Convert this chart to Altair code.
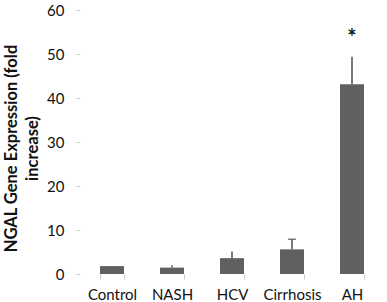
import altair as alt
import pandas as pd

# Group means (fold increase) and the top of each error bar
groups = ["Control", "NASH", "HCV", "Cirrhosis", "AH"]
fold_change = [1.8, 1.45, 3.6, 5.6, 43.1]
upper_error = [1.8, 2.0, 5.1, 7.9, 49.4]
significance = ["", "", "", "", "*"]
star_level = [None, None, None, None, 55.0]
has_cap = [False, False, False, True, False]

df = pd.DataFrame({
    "group": groups,
    "fold_change": fold_change,
    "upper_error": upper_error,
    "sig": significance,
    "star_y": star_level,
    "cap": has_cap,
})

FONT = "Lato"

x = alt.X(
    "group:N",
    sort=groups,
    scale=alt.Scale(paddingInner=0.6, paddingOuter=0.3),
    axis=alt.Axis(
        title=None,
        domain=False,
        tickBand="extent",
        tickSize=5,
        tickColor="#c8c8c8",
        labelAngle=0,
        labelPadding=8,
        labelFontSize=15,
        labelFont=FONT,
        labelColor="#111",
    ),
)

y_scale = alt.Scale(domain=[0, 60], nice=False)

bars = alt.Chart(df).mark_bar(color="#606060").encode(
    x=x,
    y=alt.Y(
        "fold_change:Q",
        scale=y_scale,
        axis=alt.Axis(
            values=[0, 10, 20, 30, 40, 50, 60],
            grid=False,
            domain=False,
            offset=2,
            tickSize=4,
            tickColor="#c8c8c8",
            labelPadding=12,
            labelFontSize=15,
            labelFont=FONT,
            labelColor="#111",
            title=["NGAL Gene Expression (fold", "increase)"],
            titleFont=FONT,
            titleFontSize=16.5,
            titleFontWeight="bold",
            titleColor="#111",
            titleLineHeight=21,
            titleAngle=-90,
            titleBaseline="top",
            titleX=-77,
            titleY=138,
        ),
    ),
)

errors = alt.Chart(df).mark_rule(color="#333333", strokeWidth=1.3).encode(
    x=alt.X("group:N", sort=groups),
    y=alt.Y("fold_change:Q", scale=y_scale),
    y2="upper_error:Q",
)

caps = alt.Chart(df).transform_filter("datum.cap").mark_tick(
    color="#333333", thickness=1.3, size=8
).encode(
    x=alt.X("group:N", sort=groups),
    y=alt.Y("upper_error:Q", scale=y_scale),
)

stars = alt.Chart(df).transform_filter("datum.sig != ''").mark_text(
    font=FONT, fontSize=22, fontWeight="bold", color="#111", baseline="middle", dy=6
).encode(
    x=alt.X("group:N", sort=groups),
    y=alt.Y("star_y:Q", scale=y_scale),
    text="sig:N",
)

chart = (
    alt.layer(bars, errors, caps, stars)
    .properties(
        width=300,
        height=264,
        autosize=alt.AutoSizeParams(type="none"),
        padding={"left": 82, "top": 10, "right": 5, "bottom": 28},
        background="white",
    )
    .configure_view(stroke=None)
)

chart.save("out.html", embed_options={"renderer": "svg", "actions": False})
